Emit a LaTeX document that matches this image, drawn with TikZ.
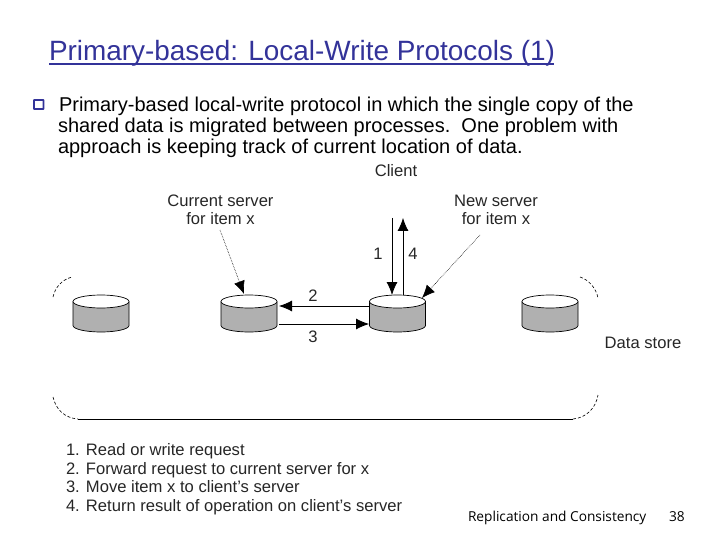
\documentclass[tikz,border=0pt]{standalone}
\usepackage{fontspec}
\setmainfont{Liberation Sans}
\newfontfamily\footfont{Open Sans}
\usetikzlibrary{arrows.meta}
\definecolor{titleblue}{HTML}{333399}
\definecolor{storegray}{HTML}{B0B0B0}
\newcommand{\fsz}[1]{\fontsize{#1}{#1}\selectfont}
\tikzset{
  x=1pt,y=-1pt,
  every node/.style={inner sep=0pt,outer sep=0pt},
  lab/.style={font=\fsz{16.6}\selectfont,align=center,text=black!85},
  msg/.style={line width=0.8pt,-{Latex[length=13pt,width=11pt]}},
  ptr/.style={line width=0.6pt,densely dotted,-{Latex[length=13pt,width=11pt]}},
  bracket/.style={line width=0.6pt,densely dashed},
  bracketline/.style={line width=0.8pt},
  storenode/.style={minimum width=56pt,minimum height=37pt},
  store/.pic={
    \fill[storegray] (-28,-12) -- (-28,12) arc[start angle=180,end angle=0,x radius=28,y radius=6.5] -- (28,-12) -- cycle;
    \draw[line width=0.7pt] (-28,-12) -- (-28,12) arc[start angle=180,end angle=0,x radius=28,y radius=6.5] -- (28,-12);
    \draw[line width=0.7pt,fill=white] (0,-12) ellipse[x radius=28,y radius=6.5];
  }
}
\begin{document}
\begin{tikzpicture}
\useasboundingbox (0,0) rectangle (720,540);
% title
\node[anchor=base west,font=\fsz{27.9}\selectfont,text=titleblue] (title) at (49,61) {Primary-based: Local-Write Protocols (1)};
\draw[titleblue,line width=1.2pt] (title.base west)++(0,3) -- ++(505,0);
% bullet
\draw[titleblue,line width=1.8pt,rounded corners=0.5pt] (34,100) rectangle (43.5,109);
% body
\node[anchor=base west,font=\fsz{20}\selectfont] (b1) at (59,112) {Primary-based local-write protocol in which the single copy of the};
\node[anchor=base west,font=\fsz{20}\selectfont] (b2) at (58,133) {shared data is migrated between processes.\ \ One problem with};
\node[anchor=base west,font=\fsz{20}\selectfont] (b3) at (58,154) {approach is keeping track of current location of data.};
% labels
\node[lab] (client) at (396,171) {Client};
\node[lab] (cur) at (220.5,210) {Current server\\[1pt]for item x};
\node[lab] (new) at (496,210) {New server\\[1pt]for item x};
\node[lab] (ds) at (643,343) {Data store};
\node[lab] (n1) at (378,254) {1};
\node[lab] (n4) at (413,254) {4};
\node[lab] (n2) at (313,296) {2};
\node[lab] (n3) at (313,337) {3};
% stores
\node[storenode] (s1) at (101,313.5) {};
\node[storenode] (s2) at (249,313.5) {};
\node[storenode] (s3) at (397.5,313.5) {};
\node[storenode] (s4) at (550,313.5) {};
\pic at (s1) {store};
\pic at (s2) {store};
\pic at (s3) {store};
\pic at (s4) {store};
% arrows
\coordinate (a2s) at (370,306);
\coordinate (a2e) at (279,306);
\coordinate (a3s) at (279,324);
\coordinate (a3e) at (369,324);
\coordinate (a1s) at (392,218);
\coordinate (a1e) at (392,295);
\coordinate (a4s) at (403,295);
\coordinate (a4e) at (403,218);
\coordinate (p1s) at (220,230);
\coordinate (p1e) at (244,294);
\coordinate (p2s) at (480,235);
\coordinate (p2e) at (422,298);
\draw[msg] (a2s) -- (a2e);
\draw[msg] (a3s) -- (a3e);
\draw[msg] (a1s) -- (a1e);
\draw[msg] (a4s) -- (a4e);
\draw[ptr] (p1s) -- (p1e);
\draw[ptr] (p2s) -- (p2e);
% data store outline
\draw[bracket] (53,297) .. controls (55,288) and (61,280) .. (72,277);
\draw[bracket] (580,277) .. controls (589,280) and (596,288) .. (598,298);
\draw[bracket] (53,397) .. controls (56,410) and (65,418) .. (78,419);
\draw[bracket] (573,419) .. controls (586,418) and (596,408) .. (598,395);
\draw[bracketline] (78,419) -- (573,419);
% legend
\node[anchor=base west,lab,align=left] (l1) at (66,455) {1. Read or write request};
\node[anchor=base west,lab,align=left] (l2) at (66,474) {2. Forward request to current server for x};
\node[anchor=base west,lab,align=left] (l3) at (66,492.5) {3. Move item x to client's server};
\node[anchor=base west,lab,align=left] (l4) at (66,511) {4. Return result of operation on client's server};
% footer
\node[anchor=base west,font=\footfont\fsz{13.7}\selectfont] (f1) at (468,521) {Replication and Consistency};
\node[anchor=base west,font=\footfont\fsz{13.7}\selectfont] (f2) at (669,521) {38};
\end{tikzpicture}
\end{document}
